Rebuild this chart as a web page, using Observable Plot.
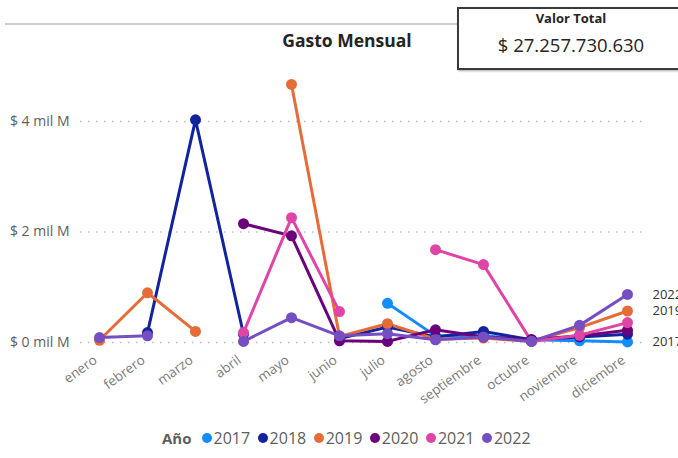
<!DOCTYPE html>
<html><head><meta charset="utf-8">
<script src="https://cdn.jsdelivr.net/npm/d3@7"></script>
<script src="https://cdn.jsdelivr.net/npm/@observablehq/plot@0.6"></script>
<style>
body{margin:0;width:678px;height:458px;overflow:hidden;background:#fff;font-family:"Open Sans",sans-serif;position:relative}
#chart{position:absolute;left:0;top:0}
#topline{position:absolute;left:5px;top:23px;width:452px;height:0;border-top:2px solid #cfcfcf}
#title{position:absolute;left:0;width:694px;top:28px;text-align:center;font-weight:700;font-size:17.5px;color:#252423}
#card{position:absolute;left:457px;top:7px;width:224px;height:59px;border:2px solid #3a3a3a;box-shadow:1px 1px 2px rgba(0,0,0,.35);background:#fff;text-align:center;color:#252423}
#card .lbl{font-weight:700;font-size:13px;margin-top:0px;line-height:18px}
#card .val{font-size:18.5px;margin-top:7px;line-height:22px}
#legend{position:absolute;left:162px;top:427px;display:flex;align-items:center;font-size:16px;color:#605E5C}
#legend .ttl{font-weight:700;font-size:15px;margin-right:10px}
#legend .it{display:flex;align-items:center;margin-right:7.5px}
#legend .sw{width:10px;height:10px;border-radius:50%;margin-right:2px}
</style></head>
<body>
<div id="topline"></div>
<div id="title">Gasto Mensual</div>
<div id="chart"></div>
<div id="card"><div class="lbl">Valor Total</div><div class="val">$ 27.257.730.630</div></div>
<div id="legend"></div>
<script>
const months = ["enero","febrero","marzo","abril","mayo","junio","julio","agosto","septiembre","octubre","noviembre","diciembre"];
const years = ["2017","2018","2019","2020","2021","2022"];
const colors = ["#118DFF","#12239E","#E66C37","#6B007B","#E044A7","#744EC2"];
// values in "mil M" (billions of pesos)
const gasto2017 = [null,null,null,null,null,null,0.71,0.12,0.12,0.05,0.03,0.01];
const gasto2018 = [null,0.18,4.03,0.15,null,0.07,0.28,0.10,0.20,0.05,0.10,0.15];
const gasto2019 = [0.04,0.90,0.20,null,4.67,0.11,0.34,0.06,0.08,0.02,0.27,0.57];
const gasto2020 = [null,null,null,2.15,1.93,0.03,0.02,0.23,0.10,0.05,0.12,0.22];
const gasto2021 = [null,null,null,0.18,2.26,0.56,null,1.68,1.41,0.02,0.13,0.36];
const gasto2022 = [0.09,0.12,null,0.02,0.45,0.12,0.16,0.05,0.10,0.02,0.31,0.87];
const yTicks = [0,2,4];
const labeledYears = ["2022","2019","2017"];

const series = [gasto2017,gasto2018,gasto2019,gasto2020,gasto2021,gasto2022];
const data = [];
years.forEach((yr,i)=>months.forEach((m,j)=>data.push({year:yr, month:m, value:series[i][j]})));

const font = '"Open Sans", sans-serif';
const chart = Plot.plot({
  width:678, height:458,
  marginLeft:80, marginRight:33, marginTop:66, marginBottom:116,
  style:{fontFamily:font, background:"transparent", overflow:"hidden"},
  x:{type:"point", domain:months, range:[98,627], padding:0},
  y:{domain:[0,5], range:[342,65.75]},
  color:{domain:years, range:colors},
  marks:[
    Plot.gridY(yTicks, {stroke:"#bdbdbd", strokeOpacity:1, strokeWidth:1.5, strokeDasharray:"1.5,6.5"}),
    Plot.axisY(yTicks, {tickSize:0, tickPadding:11, tickFormat:d=>`$ ${d} mil M`, fill:"#605E5C", fontSize:14, label:null}),
    Plot.axisX({tickSize:0, tickPadding:3, tickRotate:-36, dx:-4, dy:13, fill:"#7a7a7a", fontSize:13.5, label:null}),
    Plot.line(data, {x:"month", y:"value", z:"year", stroke:"year", strokeWidth:3, strokeLinejoin:"round"}),
    Plot.dot(data, {x:"month", y:"value", fill:"year", r:5.5}),
    Plot.text(data, {filter:d=>d.month==="diciembre" && labeledYears.includes(d.year), x:"month", y:"value", text:"year", dx:25, textAnchor:"start", fill:"#333", fontSize:13})
  ]
});
document.getElementById("chart").appendChild(chart);

const lg = document.getElementById("legend");
lg.innerHTML = '<span class="ttl">Año</span>' + years.map((y,i)=>`<span class="it"><span class="sw" style="background:${colors[i]}"></span>${y}</span>`).join("");
</script>
</body></html>
